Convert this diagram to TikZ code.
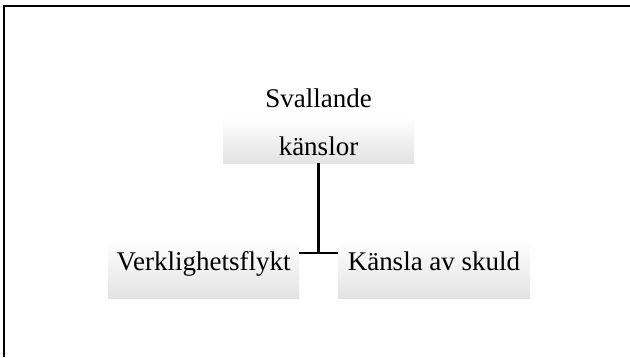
\documentclass[tikz,border=0pt]{standalone}
\usepackage{fontspec}
\setmainfont{Liberation Serif}
\begin{document}
\begin{tikzpicture}[x=1pt,y=1pt,
  box/.style={rectangle, inner sep=0pt, top color=white, bottom color=black!11, draw=none,
    font=\fontsize{27}{48}\selectfont},
  txt/.style={font=\fontsize{27}{48}\selectfont, anchor=base, inner sep=0pt},
  conn/.style={line width=2.5pt},
  frame/.style={line width=2.5pt}]
\useasboundingbox (0,0) rectangle (630,357);
\fill[white] (0,0) rectangle (630,357);
% frame lines (top and left)
\coordinate (f0) at (4,0);
\coordinate (f1) at (4,351);
\coordinate (f2) at (630,351);
\draw[frame] (f0) -- (f1) -- (f2);
% boxes
\node[box, minimum width=191, minimum height=46, text height=38, text depth=8] (top) at (318.5,217) {känslor};
\node[txt] (svl) at (318.5,250) {Svallande};
\node[box, minimum width=191, minimum height=58, text height=30, text depth=28] (l) at (203.5,88) {Verklighetsflykt};
\node[box, minimum width=192, minimum height=58, text height=30, text depth=28] (r) at (434,88) {Känsla av skuld};
% connectors
\coordinate (j) at (top.south |- 0,104);
\draw[conn] (top.south) -- (j);
\draw[conn] (l.east |- j) -- (r.west |- j);
\end{tikzpicture}
\end{document}
